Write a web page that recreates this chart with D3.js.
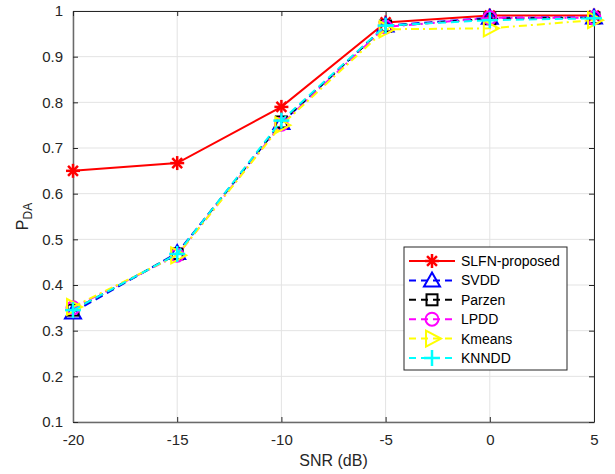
<!DOCTYPE html>
<html>
<head>
<meta charset="utf-8">
<script src="https://cdn.jsdelivr.net/npm/d3@7"></script>
<style>
  body { margin: 0; background: #fff; }
  text { font-family: "Liberation Sans", Arial, sans-serif; }
</style>
</head>
<body>
<div id="chart"></div>
<script>
// Veriler
const snr = [-20, -15, -10, -5, 0, 5];
const slfn = [0.650, 0.667, 0.790, 0.975, 0.990, 0.990];
const svdd = [0.340, 0.470, 0.755, 0.968, 0.985, 0.986];
const parzen = [0.345, 0.468, 0.757, 0.967, 0.983, 0.985];
const lpdd = [0.350, 0.465, 0.752, 0.965, 0.985, 0.985];
const kmeans = [0.352, 0.465, 0.750, 0.960, 0.962, 0.980];
const knndd = [0.345, 0.468, 0.760, 0.968, 0.980, 0.984];
const xTicks = [-20, -15, -10, -5, 0, 5];
const yTicks = [0.1, 0.2, 0.3, 0.4, 0.5, 0.6, 0.7, 0.8, 0.9, 1];

const series = [
    { name: "SLFN-proposed", values: slfn, color: "#ff0000", dash: null, marker: "star" },
    { name: "SVDD", values: svdd, color: "#0000ff", dash: "8,5", marker: "tri" },
    { name: "Parzen", values: parzen, color: "#000000", dash: "8,5", marker: "square" },
    { name: "LPDD", values: lpdd, color: "#ff00ff", dash: "8,4,2,4", marker: "circle" },
    { name: "Kmeans", values: kmeans, color: "#ffff00", dash: "8,4,2,4", marker: "rtri" },
    { name: "KNNDD", values: knndd, color: "#00ffff", dash: "8,5", marker: "plus" }
];

const width = 615, height = 474;
const plotLeft = 73, plotRight = 594, plotTop = 11, plotBottom = 422;

const svg = d3.select("#chart").append("svg")
    .attr("width", width)
    .attr("height", height);

const x = d3.scaleLinear().domain([-20, 5]).range([plotLeft, plotRight]);
const y = d3.scaleLinear().domain([0.1, 1]).range([plotBottom, plotTop]);

// Izgara
svg.append("g").selectAll("line").data(xTicks).join("line")
    .attr("x1", d => x(d)).attr("x2", d => x(d))
    .attr("y1", plotTop).attr("y2", plotBottom)
    .attr("stroke", "#e3e3e3").attr("stroke-width", 1);
svg.append("g").selectAll("line").data(yTicks).join("line")
    .attr("x1", plotLeft).attr("x2", plotRight)
    .attr("y1", d => y(d)).attr("y2", d => y(d))
    .attr("stroke", "#e3e3e3").attr("stroke-width", 1);

// Eksenler (tick'ler içeri doğru)
const xAxis = svg.append("g").attr("transform", `translate(0,${plotBottom})`)
    .call(d3.axisBottom(x).tickValues(xTicks).tickSizeInner(-5).tickSizeOuter(0).tickPadding(12)
        .tickFormat(d => String(d)));
const yAxis = svg.append("g").attr("transform", `translate(${plotLeft},0)`)
    .call(d3.axisLeft(y).tickValues(yTicks).tickSizeInner(-5).tickSizeOuter(0).tickPadding(10)
        .tickFormat(d => String(d)));
svg.append("g").attr("transform", `translate(0,${plotTop})`)
    .call(d3.axisTop(x).tickValues(xTicks).tickSizeInner(-5).tickSizeOuter(0).tickFormat(""));
svg.append("g").attr("transform", `translate(${plotRight},0)`)
    .call(d3.axisRight(y).tickValues(yTicks).tickSizeInner(-5).tickSizeOuter(0).tickFormat(""));

svg.selectAll(".domain, .tick line").attr("stroke", "#262626");
[xAxis, yAxis].forEach(a => {
    a.selectAll(".domain").attr("stroke", "#6a6a6a").attr("stroke-width", 1.5);
    a.selectAll("text").attr("font-size", 15).attr("fill", "#262626")
        .style("font-family", "'Liberation Sans', Arial, sans-serif");
});

// Eksen başlıkları
svg.append("text")
    .attr("x", (plotLeft + plotRight) / 2).attr("y", 466)
    .attr("text-anchor", "middle").attr("font-size", 16).attr("fill", "#262626")
    .text("SNR (dB)");
const ylab = svg.append("text")
    .attr("transform", `translate(28,${(plotTop + plotBottom) / 2}) rotate(-90)`)
    .attr("text-anchor", "middle").attr("font-size", 16).attr("fill", "#262626");
ylab.append("tspan").text("P");
ylab.append("tspan").attr("font-size", 12).attr("dy", 4).text("DA");

// İşaretçi çizimi
function drawMarker(g, type, color, cx, cy) {
    const s = 7;
    if (type === "star") {
        [0, 45, 90, 135].forEach(a => {
            const r = a * Math.PI / 180;
            g.append("line")
                .attr("x1", cx - s * Math.cos(r)).attr("y1", cy - s * Math.sin(r))
                .attr("x2", cx + s * Math.cos(r)).attr("y2", cy + s * Math.sin(r))
                .attr("stroke", color).attr("stroke-width", 2.5);
        });
    } else if (type === "tri") {
        g.append("path")
            .attr("d", `M${cx},${cy - 8}L${cx + 8},${cy + 6}L${cx - 8},${cy + 6}Z`)
            .attr("fill", "none").attr("stroke", color).attr("stroke-width", 2);
    } else if (type === "square") {
        g.append("rect").attr("x", cx - 5.5).attr("y", cy - 5.5)
            .attr("width", 11).attr("height", 11)
            .attr("fill", "none").attr("stroke", color).attr("stroke-width", 2);
    } else if (type === "circle") {
        g.append("circle").attr("cx", cx).attr("cy", cy).attr("r", 6.5)
            .attr("fill", "none").attr("stroke", color).attr("stroke-width", 2);
    } else if (type === "rtri") {
        g.append("path")
            .attr("d", `M${cx + 9},${cy}L${cx - 6},${cy + 8}L${cx - 6},${cy - 8}Z`)
            .attr("fill", "none").attr("stroke", color).attr("stroke-width", 2);
    } else if (type === "plus") {
        g.append("line").attr("x1", cx - 8).attr("x2", cx + 8).attr("y1", cy).attr("y2", cy)
            .attr("stroke", color).attr("stroke-width", 2.5);
        g.append("line").attr("x1", cx).attr("x2", cx).attr("y1", cy - 8).attr("y2", cy + 8)
            .attr("stroke", color).attr("stroke-width", 2.5);
    }
}

// Seriler
const line = d3.line().x((d, i) => x(snr[i])).y(d => y(d));
series.forEach(s => {
    const g = svg.append("g");
    g.append("path").datum(s.values)
        .attr("d", line)
        .attr("fill", "none")
        .attr("stroke", s.color)
        .attr("stroke-width", 2)
        .attr("stroke-dasharray", s.dash);
    s.values.forEach((v, i) => drawMarker(g, s.marker, s.color, x(snr[i]), y(v)));
});

// Lejant
const lg = svg.append("g");
lg.append("rect").attr("x", 404).attr("y", 247).attr("width", 163).attr("height", 123)
    .attr("fill", "#fff").attr("stroke", "#262626").attr("stroke-width", 1);
series.forEach((s, i) => {
    const ly = 261 + i * 19.4;
    lg.append("line").attr("x1", 409).attr("x2", 455).attr("y1", ly).attr("y2", ly)
        .attr("stroke", s.color).attr("stroke-width", 2)
        .attr("stroke-dasharray", s.dash ? "7,5" : null);
    drawMarker(lg, s.marker, s.color, 432, ly);
    lg.append("text").attr("x", 461).attr("y", ly + 5)
        .attr("font-size", 14).attr("fill", "#000").text(s.name);
});
</script>
</body>
</html>
